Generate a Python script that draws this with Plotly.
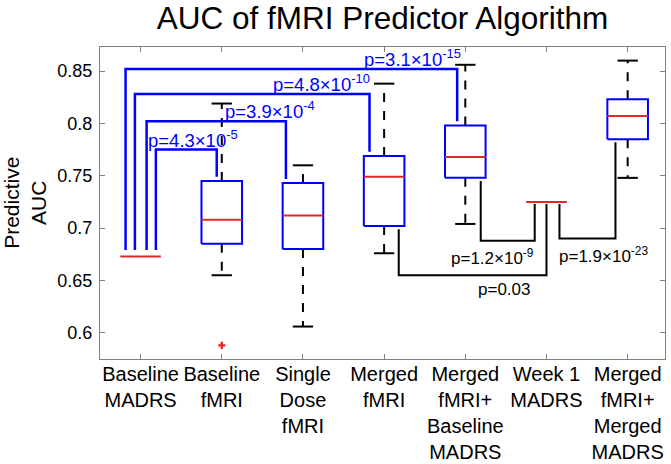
import plotly.graph_objects as go

# category labels, left to right
categories = ["Baseline<br>MADRS", "Baseline<br>fMRI", "Single<br>Dose<br>fMRI",
              "Merged<br>fMRI", "Merged<br>fMRI+<br>Baseline<br>MADRS",
              "Week 1<br>MADRS", "Merged<br>fMRI+<br>Merged<br>MADRS"]

# box statistics (None = single value, no spread)
medians = [0.673, 0.708, 0.712, 0.749, 0.768, 0.725, 0.807]
q1 = [None, 0.685, 0.680, 0.702, 0.748, None, 0.785]
q3 = [None, 0.745, 0.743, 0.769, 0.798, None, 0.823]
whisker_lo = [None, 0.655, 0.606, 0.676, 0.704, None, 0.748]
whisker_hi = [None, 0.819, 0.760, 0.838, 0.856, None, 0.860]
outlier_cat = [2]
outlier_val = [0.588]

# comparisons against Baseline MADRS (blue, drawn above)
blue_to = [2, 3, 4, 5]
blue_level = [0.775, 0.802, 0.828, 0.852]
blue_p = ["p=4.3×10<sup>-5</sup>", "p=3.9×10<sup>-4</sup>",
          "p=4.8×10<sup>-10</sup>", "p=3.1×10<sup>-15</sup>"]

# comparisons against Week 1 MADRS (black, drawn below)
black_from = [5, 4, 7]
black_level = [0.688, 0.655, 0.690]
black_p = ["p=1.2×10<sup>-9</sup>", "p=0.03", "p=1.9×10<sup>-23</sup>"]

BLUE = "#0000ff"
RED = "#e0282a"
FONT = "Arial, Liberation Sans, sans-serif"

fig = go.Figure()


def seg(x, y, color, width=2, dash="solid"):
    fig.add_trace(go.Scatter(x=x, y=y, mode="lines", hoverinfo="skip",
                             line=dict(color=color, width=width, dash=dash)))


hw = 0.25   # half box width
cw = 0.125  # half cap width
for i, m in enumerate(medians):
    c = i + 1
    if q1[i] is not None:
        # whiskers
        seg([c, c], [q3[i], whisker_hi[i]], "black", 2, "dash")
        seg([c, c], [q1[i], whisker_lo[i]], "black", 2, "dash")
        seg([c - cw, c + cw], [whisker_hi[i]] * 2, "black", 2)
        seg([c - cw, c + cw], [whisker_lo[i]] * 2, "black", 2)
        # box
        seg([c - hw, c + hw, c + hw, c - hw, c - hw],
            [q1[i], q1[i], q3[i], q3[i], q1[i]], BLUE, 2)
    seg([c - hw, c + hw], [m, m], RED, 2)

fig.add_trace(go.Scatter(x=outlier_cat, y=outlier_val, mode="markers",
                         marker=dict(symbol="cross", size=6, color=RED),
                         hoverinfo="skip"))

# blue brackets from Baseline MADRS
blue_x0 = [1.188, 1.074, 0.93, 0.815]
blue_x1 = [1.938, 2.79, 3.82, 4.9]
blue_lab_x = [1.65, 2.59, 3.225, 4.345]
for k, t in enumerate(blue_to):
    y0 = medians[0] + 0.006
    y1 = q3[t - 1] + 0.004
    lv = blue_level[k]
    seg([blue_x0[k], blue_x0[k], blue_x1[k], blue_x1[k]], [y0, lv, lv, y1], BLUE, 2.5)
    fig.add_annotation(x=blue_lab_x[k], y=lv, text=blue_p[k], showarrow=False,
                       xanchor="center", yanchor="bottom", yshift=-3,
                       font=dict(size=18.5, color=BLUE, family=FONT))

# black brackets to Week 1 MADRS
black_x0 = [5.19, 4.18, 6.16]
black_x1 = [5.855, 6.0, 6.85]
black_lab_x = [5.34, 5.477, 6.705]
for k, f in enumerate(black_from):
    yf = q1[f - 1] - 0.003
    yw = medians[5] - 0.002
    lv = black_level[k]
    if f < 6:
        xs, ys = [black_x0[k], black_x0[k], black_x1[k], black_x1[k]], [yf, lv, lv, yw]
    else:
        xs, ys = [black_x0[k], black_x0[k], black_x1[k], black_x1[k]], [yw, lv, lv, yf]
    seg(xs, ys, "black", 2)
    fig.add_annotation(x=black_lab_x[k], y=lv, text=black_p[k], showarrow=False,
                       xanchor="center", yanchor="top", yshift=-3,
                       font=dict(size=17, color="black", family=FONT))

fig.add_annotation(x=-0.133, y=0.5, xref="paper", yref="paper",
                   text="Predictive<br>AUC", textangle=-90, showarrow=False,
                   xanchor="center", yanchor="middle",
                   font=dict(size=21, color="black", family=FONT))

ax = dict(showline=True, linecolor="#808080", linewidth=1, mirror="ticks",
          ticks="inside", ticklen=5, tickcolor="#808080", showgrid=False,
          zeroline=False, automargin=False,
          tickfont=dict(size=20, color="black", family=FONT))

fig.update_layout(
    width=671, height=464,
    margin=dict(l=100, r=6, t=47, b=105),
    paper_bgcolor="white", plot_bgcolor="white",
    showlegend=False,
    title=dict(text="AUC of fMRI Predictor Algorithm", x=0.5, xref="paper",
               y=1 - 17.5 / 464, yanchor="middle",
               font=dict(size=31.5, color="black", family=FONT)),
    xaxis=dict(ax, range=[0.5, 7.46], tickvals=list(range(1, 8)),
               ticktext=categories, ticklabelstandoff=-3),
    yaxis=dict(ax, range=[0.575, 0.873],
               tickvals=[0.6, 0.65, 0.7, 0.75, 0.8, 0.85],
               ticktext=["0.6", "0.65", "0.7", "0.75", "0.8", "0.85"],
               ticklabelstandoff=3,
               tickfont=dict(size=18, color="black", family=FONT)),
)

# page body has a default 8px margin; drop it so the figure sits at the corner
fig.write_html("out.html", config={"displayModeBar": False},
               post_script="document.body.style.margin='0';")
